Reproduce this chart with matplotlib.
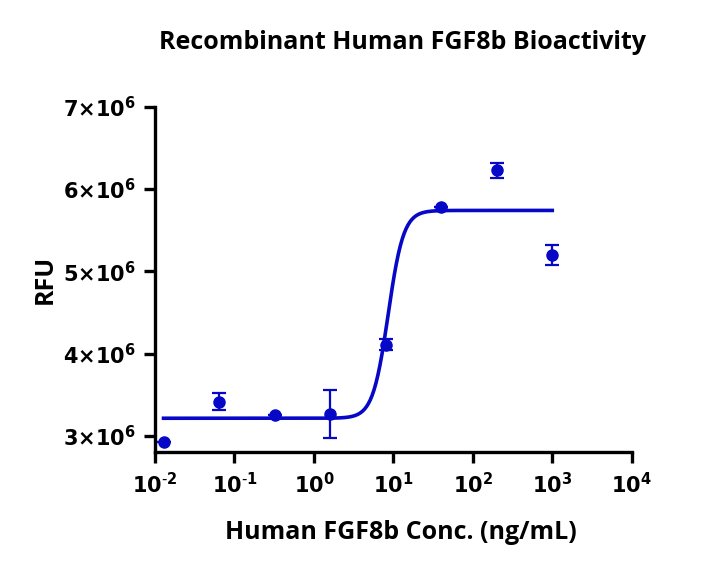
import numpy as np
import matplotlib
matplotlib.use("Agg")
import matplotlib.pyplot as plt
from matplotlib.ticker import FixedLocator, FuncFormatter

# measured points
conc = [0.0128, 0.064, 0.32, 1.6, 8, 40, 200, 1000]
rfu = [2.93e6, 3.416e6, 3.255e6, 3.263e6, 4.11e6, 5.78e6, 6.228e6, 5.194e6]
rfu_err = [0.0, 0.105e6, 0.0, 0.29e6, 0.065e6, 0.0, 0.09e6, 0.123e6]

# 4PL fit params (bottom, top, EC50, hill)
fit_bottom = 3.214e6
fit_top = 5.74e6
fit_ec50 = 8.6
fit_hill = 4.5

blue = "#0707c8"

fig = plt.figure(figsize=[7.2, 5.74], dpi=100)
ax = fig.add_axes([0.2153, 0.212, 0.6621, 0.602])

xx = np.logspace(np.log10(conc[0]), np.log10(conc[-1]), 400)
yy = fit_bottom + (fit_top - fit_bottom) / (1 + (fit_ec50 / xx) ** fit_hill)
ax.plot(xx, yy, color=blue, lw=2.6)

ax.errorbar(conc, rfu, yerr=rfu_err, fmt='o', color=blue, ms=8,
            capsize=5, elinewidth=1.6, capthick=1.6, clip_on=False, zorder=3)

def xfmt(v, p):
    k = int(round(np.log10(v)))
    if k < 0:
        return r'$\mathbf{10^{\text{-}%d}}$' % (-k)
    return r'$\mathbf{10^{%d}}$' % k

ax.set_xscale('log')
ax.set_xlim(1e-2, 1e4)
ax.set_ylim(2.8e6, 7e6)
ax.xaxis.set_major_locator(FixedLocator([10.0 ** k for k in range(-2, 5)]))
ax.xaxis.set_minor_locator(FixedLocator([]))
ax.xaxis.set_major_formatter(FuncFormatter(xfmt))
ax.yaxis.set_major_locator(FixedLocator([3e6, 4e6, 5e6, 6e6, 7e6]))
ax.yaxis.set_major_formatter(FuncFormatter(lambda v, p: r'$\mathbf{%d{\times}10^{6}}$' % round(v / 1e6)))

for s in ['top', 'right']:
    ax.spines[s].set_visible(False)
for s in ['left', 'bottom']:
    ax.spines[s].set_linewidth(2.4)
ax.tick_params(width=2.4, length=8, labelsize=15, pad=6)

ax.set_xlabel('Human FGF8b Conc. (ng/mL)', fontsize=18, fontweight='bold',
              family='Open Sans', labelpad=18)
ax.xaxis.set_label_coords(0.515, -0.195)
ax.set_ylabel('RFU', fontsize=18, fontweight='bold', family='Open Sans', labelpad=4)
fig.suptitle('Recombinant Human FGF8b Bioactivity', x=0.559, y=0.948,
             fontsize=18, fontweight='bold', family='Open Sans')

plt.savefig("out.png", dpi=100)
